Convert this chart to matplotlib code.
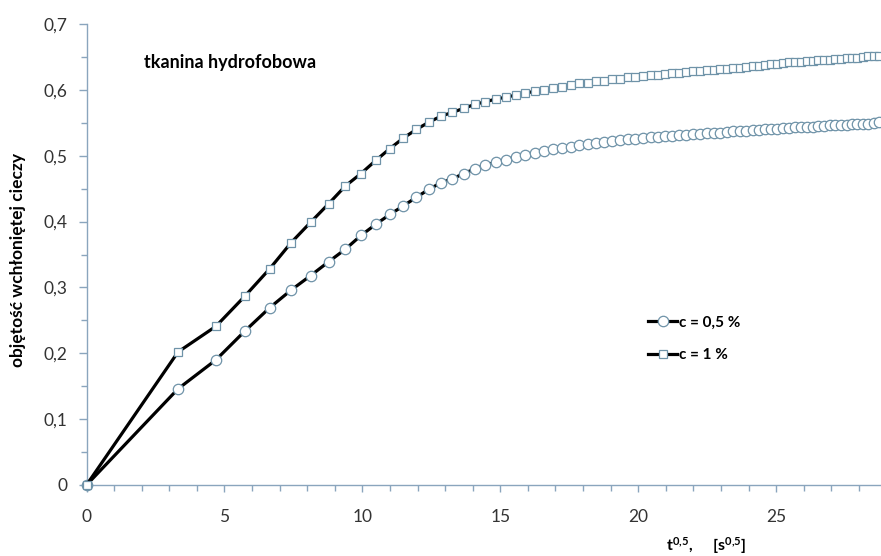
import numpy as np
import matplotlib
matplotlib.use('Agg')
import matplotlib.pyplot as plt
from matplotlib.ticker import MultipleLocator, FuncFormatter

plt.rcParams['font.family'] = ['Lato', 'DejaVu Sans']
plt.rcParams['mathtext.fontset'] = 'custom'
plt.rcParams['mathtext.rm'] = 'Lato'
plt.rcParams['mathtext.bf'] = 'Lato:bold'

# czas pomiaru [s], na osi x jest t^0,5
t_s = [0, 11, 22, 33, 44, 55, 66, 77, 88, 99,
       110, 121, 132, 143, 154, 165, 176, 187, 198, 209,
       220, 231, 242, 253, 264, 275, 286, 297, 308, 319,
       330, 341, 352, 363, 374, 385, 396, 407, 418, 429,
       440, 451, 462, 473, 484, 495, 506, 517, 528, 539,
       550, 561, 572, 583, 594, 605, 616, 627, 638, 649,
       660, 671, 682, 693, 704, 715, 726, 737, 748, 759,
       770, 781, 792, 803, 814, 825]

# c = 0,5 %
v_05 = [0, .146, .190, .234, .269, .296, .318, .339, .358, .379,
        .396, .411, .424, .437, .449, .459, .465, .473, .480, .486,
        .490, .494, .498, .501, .504, .507, .510, .512, .514, .516,
        .518, .519, .521, .522, .524, .525, .526, .527, .528, .529,
        .530, .530, .531, .532, .533, .533, .534, .535, .535, .536,
        .537, .537, .538, .539, .539, .540, .541, .541, .542, .542,
        .543, .543, .544, .544, .545, .545, .546, .546, .547, .547,
        .548, .548, .549, .549, .550, .551]

# c = 1 %
v_1 = [0, .202, .241, .287, .328, .368, .399, .427, .454, .473,
       .493, .511, .527, .540, .551, .560, .566, .572, .578, .582,
       .586, .589, .592, .595, .598, .600, .603, .605, .607, .610,
       .611, .613, .614, .616, .617, .619, .620, .621, .622, .623,
       .624, .625, .626, .627, .628, .629, .630, .631, .632, .632,
       .633, .634, .635, .636, .637, .638, .640, .640, .641, .642,
       .642, .643, .644, .644, .645, .646, .646, .647, .647, .648,
       .649, .649, .650, .651, .651, .652]

labels = ['c = 0,5 %', 'c = 1 %']

x = np.sqrt(t_s)

axcol = '#8aa5bd'
mcol = '#6f93a8'

fig = plt.figure(figsize=(8.81, 5.56), dpi=100)
ax = fig.add_axes([0.0982, 0.1277, 0.9018, 0.829])

ax.plot(x, v_05, color='black', lw=2.3, marker='o', ms=7.5,
        mfc='white', mec=mcol, mew=0.9, label=labels[0], clip_on=False, zorder=3)
ax.plot(x, v_1, color='black', lw=2.3, marker='s', ms=6.2,
        mfc='white', mec=mcol, mew=0.9, label=labels[1], clip_on=False, zorder=3)

ax.set_xlim(0, 28.8)
ax.set_ylim(0, 0.7)

for s in ['top', 'right']:
    ax.spines[s].set_visible(False)
for s in ['left', 'bottom']:
    ax.spines[s].set_color(axcol)
    ax.spines[s].set_linewidth(1.0)

ax.xaxis.set_major_locator(MultipleLocator(5))
ax.xaxis.set_minor_locator(MultipleLocator(1))
ax.yaxis.set_major_locator(MultipleLocator(0.1))
ax.yaxis.set_minor_locator(MultipleLocator(0.05))
ax.yaxis.set_major_formatter(FuncFormatter(lambda v, p: ('%g' % round(v, 2)).replace('.', ',')))

ax.tick_params(axis='x', which='major', length=5, width=1, color=axcol, pad=12,
               labelsize=12.5, labelcolor='#333333')
ax.tick_params(axis='x', which='minor', length=4, width=1, color=axcol)
ax.tick_params(axis='y', which='major', length=6, width=1, color=axcol, pad=8,
               labelsize=12.5, labelcolor='#333333')
ax.tick_params(axis='y', which='minor', length=4, width=1, color=axcol)

ax.text(2.1, 0.642, 'tkanina hydrofobowa', fontsize=13, fontweight='bold', va='center')

fig.text(18 / 881, 0.532, 'objętość wchłoniętej cieczy', rotation=90,
         fontsize=12.5, fontweight='bold', ha='center', va='center')
fig.text(706 / 881, 0.018, r'$\mathbf{t^{0{,}5}{,}\ \ \ \ [s^{0{,}5}]}$',
         fontsize=11.5, ha='center', va='center')

leg = ax.legend(loc='center left', bbox_to_anchor=(0.707, 0.317), frameon=False,
                borderaxespad=0, borderpad=0,
                handlelength=1.9, handletextpad=0.1, labelspacing=1.2,
                prop={'weight': 'bold', 'size': 11})

fig.savefig('out.png', dpi=100)
